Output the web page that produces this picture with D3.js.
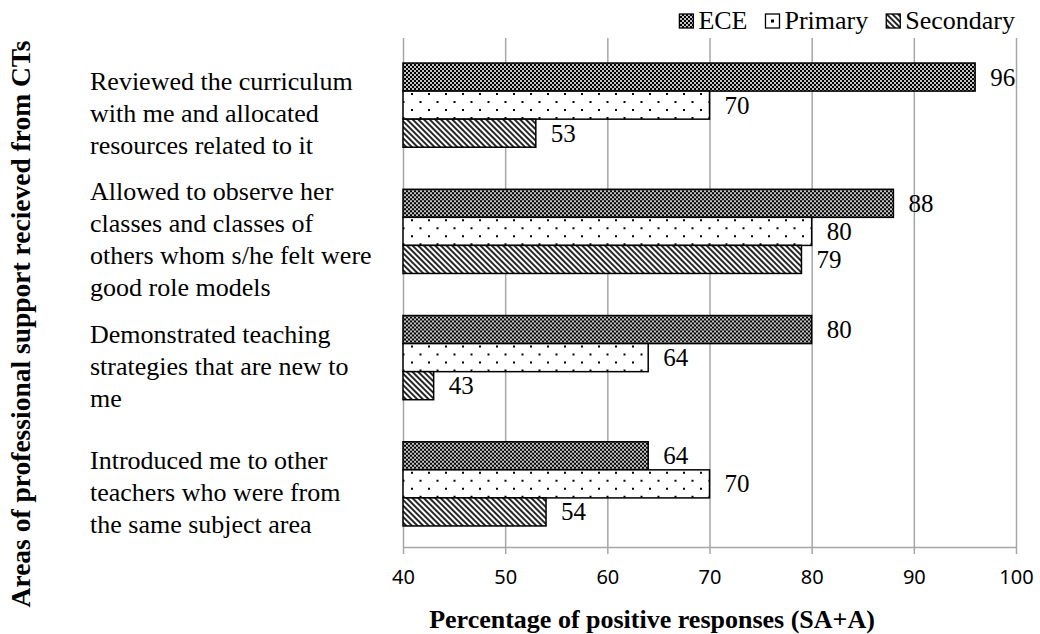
<!DOCTYPE html>
<html>
<head>
<meta charset="utf-8">
<script src="https://cdn.jsdelivr.net/npm/d3@7"></script>
<style>
  body { margin: 0; background: #fff; }
  .serif { font-family: "Liberation Serif", "Times New Roman", Tinos, "DejaVu Serif", serif; }
</style>
</head>
<body>
<svg id="chart" width="1040" height="634"></svg>
<script>
// Areas of support (each label pre-wrapped into its display lines)
const categories = [
  ["Reviewed the curriculum", "with me and allocated", "resources related to it"],
  ["Allowed to observe her", "classes and classes of", "others whom s/he felt were", "good role models"],
  ["Demonstrated teaching", "strategies that are new to", "me"],
  ["Introduced me to other", "teachers who were from", "the same subject area"]
];
const series = ["ECE", "Primary", "Secondary"];
const eceValues = [96, 88, 80, 64];
const primaryValues = [70, 80, 64, 70];
const secondaryValues = [53, 79, 43, 54];
const xTicks = [40, 50, 60, 70, 80, 90, 100];
const xTitle = "Percentage of positive responses (SA+A)";
const yTitle = "Areas of professional support recieved from CTs";

const valuesBySeries = { ECE: eceValues, Primary: primaryValues, Secondary: secondaryValues };

const SANS = "'Noto Sans', 'Open Sans', sans-serif";
const GRID = "#a6a6a6";

const svg = d3.select("#chart");
const plot = { left: 403, right: 1016, top: 38, bottom: 547 };

const x = d3.scaleLinear().domain([40, 100]).range([plot.left, plot.right]);
const y0 = d3.scaleBand().domain(d3.range(categories.length)).range([42, plot.bottom]);
const y1 = d3.scaleBand().domain(series).range([0, y0.bandwidth()])
  .paddingInner(0).paddingOuter(0.75);

// ---- fill patterns ----
const defs = svg.append("defs");

// dark fine checker
const pEce = defs.append("pattern").attr("id", "pat-ECE")
  .attr("patternUnits", "userSpaceOnUse").attr("width", 4).attr("height", 4);
pEce.append("rect").attr("width", 4).attr("height", 4).attr("fill", "#c4c4c4");
pEce.append("rect").attr("x", 0).attr("y", 0).attr("width", 2).attr("height", 2).attr("fill", "#000");
pEce.append("rect").attr("x", 2).attr("y", 2).attr("width", 2).attr("height", 2).attr("fill", "#000");

// sparse staggered dots
const pPri = defs.append("pattern").attr("id", "pat-Primary")
  .attr("patternUnits", "userSpaceOnUse").attr("width", 17).attr("height", 16);
pPri.append("rect").attr("width", 17).attr("height", 16).attr("fill", "#fff");
pPri.append("rect").attr("x", 3).attr("y", 3).attr("width", 2).attr("height", 2).attr("fill", "#000");
pPri.append("rect").attr("x", 11.5).attr("y", 11).attr("width", 2).attr("height", 2).attr("fill", "#000");

// dense downward diagonal hatch
const pSec = defs.append("pattern").attr("id", "pat-Secondary")
  .attr("patternUnits", "userSpaceOnUse").attr("width", 4).attr("height", 4)
  .attr("patternTransform", "rotate(-45)");
pSec.append("rect").attr("width", 4).attr("height", 4).attr("fill", "#fff");
pSec.append("line").attr("x1", 1).attr("y1", 0).attr("x2", 1).attr("y2", 4)
  .attr("stroke", "#000").attr("stroke-width", 1.7);

// ---- gridlines ----
svg.append("g")
  .attr("transform", `translate(0,${plot.bottom})`)
  .call(d3.axisBottom(x).tickValues(xTicks).tickSize(-(plot.bottom - plot.top)).tickFormat(""))
  .call(g => g.select(".domain").remove())
  .call(g => g.selectAll(".tick line").attr("stroke", GRID).attr("stroke-width", 1.5));

// ---- bars ----
const groups = svg.append("g").selectAll("g")
  .data(categories)
  .join("g")
  .attr("transform", (d, i) => `translate(0,${y0(i)})`);

groups.each(function (d, i) {
  const g = d3.select(this);
  series.forEach(s => {
    const v = valuesBySeries[s][i];
    g.append("rect")
      .attr("x", x(40))
      .attr("y", y1(s))
      .attr("width", x(v) - x(40))
      .attr("height", y1.bandwidth())
      .attr("fill", `url(#pat-${s})`)
      .attr("stroke", "#000")
      .attr("stroke-width", 1.5);
    g.append("text")
      .attr("class", "serif")
      .attr("x", x(v) + 15)
      .attr("y", y1(s) + y1.bandwidth() / 2 + 8.5)
      .attr("font-size", 25)
      .attr("fill", "#000")
      .text(v);
  });
});

// ---- bottom axis ----
svg.append("g")
  .attr("transform", `translate(0,${plot.bottom})`)
  .call(d3.axisBottom(x).tickValues(xTicks).tickSize(7).tickSizeOuter(0).tickPadding(16))
  .call(g => g.select(".domain").attr("stroke", GRID).attr("stroke-width", 1.5))
  .call(g => g.selectAll(".tick line").attr("stroke", GRID).attr("stroke-width", 1.5))
  .call(g => g.selectAll(".tick text")
    .attr("font-family", SANS).attr("font-size", 20).attr("fill", "#000"));

// ---- category labels ----
const lineGap = 32;
groups.append("text")
  .attr("class", "serif")
  .attr("font-size", 26)
  .attr("fill", "#000")
  .each(function (lines) {
    const t = d3.select(this);
    const mid = y0.bandwidth() / 2 + 17;
    lines.forEach((ln, k) => {
      t.append("tspan")
        .attr("x", 90)
        .attr("y", mid + (k - (lines.length - 1) / 2) * lineGap)
        .text(ln);
    });
  });

// ---- axis titles ----
svg.append("text")
  .attr("class", "serif")
  .attr("x", 652).attr("y", 628)
  .attr("text-anchor", "middle")
  .attr("font-size", 26).attr("font-weight", "bold")
  .text(xTitle);

svg.append("text")
  .attr("class", "serif")
  .attr("transform", "translate(30,324) rotate(-90)")
  .attr("text-anchor", "middle")
  .attr("font-size", 27.5).attr("font-weight", "bold")
  .text(yTitle);

// ---- legend (right aligned) ----
const legend = svg.append("g");
const sw = 14, swGap = 5, itemGap = 18, legendBase = 29;
const items = legend.selectAll("g").data(series).join("g");
items.append("text")
  .attr("class", "serif")
  .attr("font-size", 26).attr("fill", "#000")
  .attr("y", legendBase)
  .text(d => d);
const widths = [];
items.select("text").each(function () { widths.push(this.getComputedTextLength()); });
let cursor = 1015;
for (let i = series.length - 1; i >= 0; i--) {
  const textX = cursor - widths[i];
  const it = d3.select(items.nodes()[i]);
  it.select("text").attr("x", textX);
  const sx = textX - swGap - sw;
  const s = series[i];
  it.append("rect")
    .attr("x", sx).attr("y", legendBase - 15)
    .attr("width", sw).attr("height", sw)
    .attr("fill", s === "Primary" ? "#fff" : `url(#pat-${s})`)
    .attr("stroke", "#000").attr("stroke-width", 1.3);
  if (s === "Primary") {
    it.append("rect")
      .attr("x", sx + sw / 2 - 1.5).attr("y", legendBase - 15 + sw / 2 - 1.5)
      .attr("width", 3).attr("height", 3).attr("fill", "#000");
  }
  cursor = sx - itemGap;
}
</script>
</body>
</html>
